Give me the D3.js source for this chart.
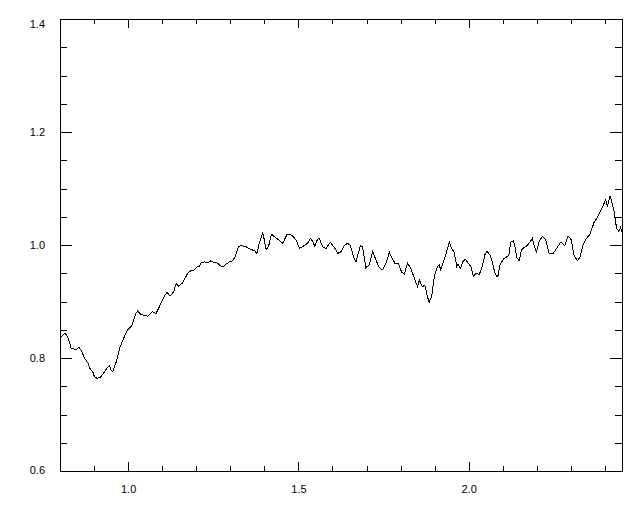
<!DOCTYPE html>
<html>
<head>
<meta charset="utf-8">
<script src="https://cdn.jsdelivr.net/npm/d3@7"></script>
<style>
  html, body { margin: 0; padding: 0; background: #fff; }
  svg { display: block; }
  text { font-family: "Liberation Sans", Arial, sans-serif; font-size: 11px; fill: #000; }
</style>
</head>
<body>
<svg id="chart" width="640" height="512"></svg>
<script>
// ---- data ----
const xValues = [
  0.800, 0.815, 0.823, 0.833, 0.848, 0.855, 0.862, 0.872, 0.882, 0.887,
  0.896, 0.901, 0.909, 0.919, 0.931, 0.940, 0.945, 0.950, 0.955, 0.965,
  0.975, 0.989, 0.999, 1.011, 1.023, 1.028, 1.038, 1.058, 1.072, 1.082,
  1.092, 1.105, 1.114, 1.123, 1.134, 1.141, 1.148, 1.160, 1.175, 1.185,
  1.195, 1.202, 1.209, 1.214, 1.224, 1.234, 1.243, 1.253, 1.263, 1.271,
  1.278, 1.287, 1.297, 1.307, 1.314, 1.324, 1.331, 1.346, 1.361, 1.371,
  1.378, 1.385, 1.395, 1.400, 1.405, 1.412, 1.421, 1.431, 1.444, 1.454,
  1.466, 1.473, 1.483, 1.493, 1.503, 1.512, 1.519, 1.527, 1.535, 1.542,
  1.548, 1.556, 1.561, 1.571, 1.581, 1.591, 1.595, 1.603, 1.610, 1.615,
  1.625, 1.635, 1.644, 1.652, 1.662, 1.669, 1.682, 1.688, 1.698, 1.708,
  1.718, 1.724, 1.737, 1.747, 1.757, 1.767, 1.773, 1.783, 1.793, 1.803,
  1.811, 1.820, 1.830, 1.842, 1.850, 1.855, 1.864, 1.871, 1.879, 1.884,
  1.891, 1.899, 1.906, 1.913, 1.918, 1.926, 1.935, 1.943, 1.949, 1.957,
  1.965, 1.969, 1.975, 1.984, 1.991, 1.998, 2.006, 2.014, 2.021, 2.031,
  2.040, 2.047, 2.053, 2.063, 2.069, 2.076, 2.082, 2.086, 2.092, 2.102,
  2.111, 2.118, 2.123, 2.131, 2.135, 2.141, 2.148, 2.155, 2.162, 2.172,
  2.182, 2.187, 2.194, 2.199, 2.206, 2.216, 2.226, 2.236, 2.248, 2.258,
  2.270, 2.282, 2.292, 2.301, 2.309, 2.319, 2.327, 2.336, 2.346, 2.356,
  2.368, 2.375, 2.385, 2.392, 2.402, 2.407, 2.415, 2.421, 2.426, 2.434,
  2.441, 2.446, 2.452
];
const yValues = [
  0.835, 0.844, 0.837, 0.817, 0.815, 0.819, 0.814, 0.800, 0.791, 0.782,
  0.776, 0.767, 0.764, 0.766, 0.776, 0.784, 0.786, 0.779, 0.776, 0.793,
  0.817, 0.838, 0.850, 0.857, 0.879, 0.883, 0.877, 0.874, 0.882, 0.879,
  0.891, 0.908, 0.916, 0.910, 0.917, 0.932, 0.927, 0.933, 0.950, 0.955,
  0.956, 0.961, 0.962, 0.968, 0.970, 0.969, 0.972, 0.969, 0.968, 0.963,
  0.961, 0.966, 0.970, 0.972, 0.979, 0.997, 0.999, 0.997, 0.992, 0.990,
  0.985, 1.003, 1.021, 1.009, 0.992, 0.997, 1.019, 1.014, 1.008, 1.003,
  1.018, 1.019, 1.016, 1.009, 0.994, 0.997, 1.000, 1.003, 1.012, 1.006,
  0.998, 1.010, 1.012, 0.997, 0.994, 1.003, 1.004, 0.997, 0.992, 0.985,
  0.988, 0.999, 1.003, 1.000, 0.979, 0.970, 0.999, 0.997, 0.960, 0.965,
  0.989, 0.979, 0.960, 0.956, 0.968, 0.987, 0.979, 0.968, 0.968, 0.952,
  0.948, 0.968, 0.959, 0.938, 0.926, 0.938, 0.926, 0.929, 0.908, 0.899,
  0.908, 0.944, 0.959, 0.965, 0.956, 0.970, 0.988, 1.005, 0.994, 0.988,
  0.962, 0.966, 0.958, 0.972, 0.975, 0.968, 0.962, 0.944, 0.950, 0.948,
  0.962, 0.982, 0.989, 0.982, 0.970, 0.952, 0.944, 0.946, 0.965, 0.975,
  0.979, 0.982, 1.005, 1.007, 0.999, 0.978, 0.972, 0.991, 0.995, 0.999,
  1.007, 1.012, 0.995, 0.988, 1.005, 1.015, 1.009, 0.985, 0.985, 0.994,
  1.005, 0.999, 1.016, 1.009, 0.982, 0.972, 0.979, 1.001, 1.012, 1.019,
  1.040, 1.046, 1.058, 1.066, 1.080, 1.068, 1.087, 1.074, 1.062, 1.030,
  1.024, 1.031, 1.020
];
const xDomain = [0.8, 2.45];
const yDomain = [0.6, 1.4];
const xMajorTicks = [1.0, 1.5, 2.0];
const xTickLabels = ["1.0", "1.5", "2.0"];
const yMajorTicks = [0.6, 0.8, 1.0, 1.2, 1.4];
const yTickLabels = ["0.6", "0.8", "1.0", "1.2", "1.4"];

(function () {
  // ---- layout ----
  const mLeft = 60, mRight = 622, mTop = 19, mBottom = 471;
  const svg = d3.select("#chart");

  const x = d3.scaleLinear().domain(xDomain).range([mLeft, mRight]);
  const y = d3.scaleLinear().domain(yDomain).range([mBottom, mTop]);

  const near = (a, b) => Math.abs(a - b) < 1e-9;
  const xMinor = d3.range(8, 25).map(d => d / 10)
    .filter(d => d > xDomain[0] && d <= xDomain[1] && !xMajorTicks.some(m => near(m, d)));
  const yMinor = d3.range(12, 29).map(d => d / 20)
    .filter(d => d > yDomain[0] && d < yDomain[1] && !yMajorTicks.some(m => near(m, d)));

  svg.append("defs").append("clipPath").attr("id", "clip")
    .append("rect").attr("x", mLeft).attr("y", mTop)
    .attr("width", mRight - mLeft).attr("height", mBottom - mTop);

  const data = xValues.map((v, i) => [v, yValues[i]]);
  const line = d3.line().x(d => x(d[0])).y(d => y(d[1]));
  svg.append("path")
    .datum(data)
    .attr("clip-path", "url(#clip)")
    .attr("fill", "none")
    .attr("stroke", "#000")
    .attr("stroke-width", 1)
    .attr("shape-rendering", "crispEdges")
    .attr("d", line);

  function fmtX(d) { const i = xMajorTicks.findIndex(m => near(m, d)); return i >= 0 ? xTickLabels[i] : ""; }
  function fmtY(d) { const i = yMajorTicks.findIndex(m => near(m, d)); return i >= 0 ? yTickLabels[i] : ""; }

  function styleAxis(g) {
    g.selectAll("path").attr("stroke", "#000").attr("stroke-width", 1).attr("shape-rendering", "crispEdges");
    g.selectAll("line").attr("stroke", "#000").attr("stroke-width", 1).attr("shape-rendering", "crispEdges");
    g.selectAll("text").attr("font-family", "Liberation Sans, Arial, sans-serif").attr("font-size", 11).attr("fill", "#000");
  }

  // bottom
  const gb = svg.append("g").attr("transform", `translate(0,${mBottom})`)
    .call(d3.axisBottom(x).tickValues(xMajorTicks).tickSize(-9).tickSizeOuter(0).tickPadding(14).tickFormat(fmtX));
  styleAxis(gb);
  const gbm = svg.append("g").attr("transform", `translate(0,${mBottom})`)
    .call(d3.axisBottom(x).tickValues(xMinor).tickSize(-5).tickSizeOuter(0).tickFormat(""));
  styleAxis(gbm); gbm.select("path").remove();

  // top
  const gt = svg.append("g").attr("transform", `translate(0,${mTop})`)
    .call(d3.axisTop(x).tickValues(xMajorTicks).tickSize(-9).tickSizeOuter(0).tickFormat(""));
  styleAxis(gt);
  const gtm = svg.append("g").attr("transform", `translate(0,${mTop})`)
    .call(d3.axisTop(x).tickValues(xMinor).tickSize(-5).tickSizeOuter(0).tickFormat(""));
  styleAxis(gtm); gtm.select("path").remove();

  // left
  const gl = svg.append("g").attr("transform", `translate(${mLeft},0)`)
    .call(d3.axisLeft(y).tickValues(yMajorTicks).tickSize(-12).tickSizeOuter(0).tickPadding(15).tickFormat(fmtY));
  styleAxis(gl);
  // keep the end labels inside the frame as in the reference
  gl.selectAll(".tick text").attr("dy", d => near(d, yDomain[1]) ? "0.75em" : (near(d, yDomain[0]) ? "0.2em" : "0.32em"));
  const glm = svg.append("g").attr("transform", `translate(${mLeft},0)`)
    .call(d3.axisLeft(y).tickValues(yMinor).tickSize(-7).tickSizeOuter(0).tickFormat(""));
  styleAxis(glm); glm.select("path").remove();

  // right
  const gr = svg.append("g").attr("transform", `translate(${mRight},0)`)
    .call(d3.axisRight(y).tickValues(yMajorTicks).tickSize(-12).tickSizeOuter(0).tickFormat(""));
  styleAxis(gr);
  const grm = svg.append("g").attr("transform", `translate(${mRight},0)`)
    .call(d3.axisRight(y).tickValues(yMinor).tickSize(-7).tickSizeOuter(0).tickFormat(""));
  styleAxis(grm); grm.select("path").remove();
})();
</script>
</body>
</html>
